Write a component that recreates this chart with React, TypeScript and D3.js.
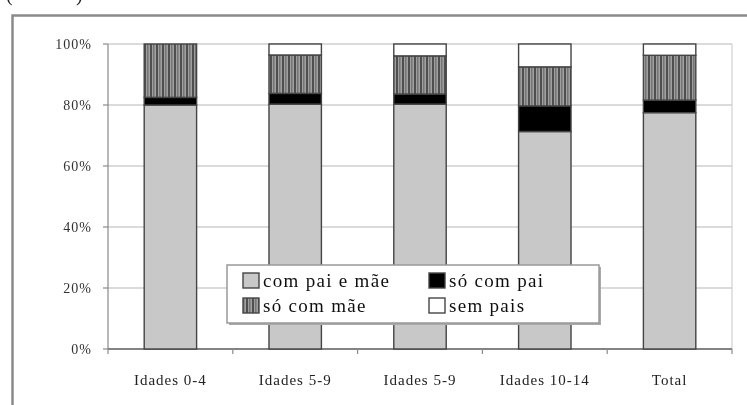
import React from "react";
import * as d3 from "d3";

const categories = ["Idades 0-4", "Idades 5-9", "Idades 5-9", "Idades 10-14", "Total"];
const seriesNames = ["com pai e mãe", "só com pai", "só com mãe", "sem pais"];
const comPaiEMae = [80.0, 80.3, 80.3, 71.3, 77.5];
const soComPai = [2.5, 3.5, 3.3, 8.4, 4.1];
const soComMae = [17.5, 12.6, 12.5, 12.8, 14.7];
const semPais = [0.0, 3.6, 3.9, 7.5, 3.7];
const yTicks = [0, 20, 40, 60, 80, 100];

const W = 747;
const H = 405;
const margin = { left: 108, right: 15, top: 44, bottom: 56 };
const FONT = "'Liberation Serif', 'DejaVu Serif', serif";

const seriesValues = [comPaiEMae, soComPai, soComMae, semPais];
const fills = ["#c8c8c8", "#000000", "url(#stripes)", "#ffffff"];

export default function App() {
  const x = d3
    .scaleBand<number>()
    .domain(d3.range(categories.length))
    .range([margin.left, W - margin.right])
    .paddingInner(0.58)
    .paddingOuter(0.29);
  const y = d3.scaleLinear().domain([0, 100]).range([H - margin.bottom, margin.top]);

  const rows = categories.map((c, i) => {
    const r: Record<string, number> = { i };
    seriesNames.forEach((s, k) => (r[s] = seriesValues[k][i]));
    return r;
  });
  const stacked = d3.stack<Record<string, number>>().keys(seriesNames)(rows);

  const plotL = margin.left;
  const plotR = W - margin.right;
  const step = (plotR - plotL) / categories.length;

  const legend = { x: 227, y: 265, w: 372, h: 58 };
  const legendItems = [
    { k: 0, col: 0, row: 0 },
    { k: 1, col: 1, row: 0 },
    { k: 2, col: 0, row: 1 },
    { k: 3, col: 1, row: 1 },
  ];

  return (
    <svg
      width={W}
      height={H}
      style={{ position: "absolute", left: 0, top: 0, background: "#fff" }}
      fontFamily={FONT}
    >
      <defs>
        <pattern id="stripes" width="6" height="4" patternUnits="userSpaceOnUse">
          <rect width="6" height="4" fill="#a0a0a0" />
          <rect x="0" width="2" height="4" fill="#505050" />
          <rect x="3" width="1.5" height="4" fill="#747474" />
        </pattern>
        <filter id="soft" x="-5%" y="-5%" width="110%" height="110%">
          <feGaussianBlur stdDeviation="0.55" />
        </filter>
      </defs>

      <g filter="url(#soft)">
        {/* heading running off the top edge */}
        <text x={6} y={1} fontSize={20} fill="#222">(</text>
        <text x={76} y={1} fontSize={20} fill="#222">)</text>

        {/* outer frame */}
        <path d={`M12.5,${H} V15.5 H${W}`} fill="none" stroke="#8a8a8a" strokeWidth={2.5} />

        {/* horizontal grid */}
        {yTicks.map((t) => (
          <line key={t} x1={plotL} x2={plotR} y1={y(t)} y2={y(t)} stroke="#b8b8b8" strokeWidth={1.2} />
        ))}
        <line x1={plotR} x2={plotR} y1={y(100)} y2={y(0)} stroke="#c8c8c8" strokeWidth={1} />

        {/* y axis */}
        <line x1={plotL} x2={plotL} y1={y(100)} y2={y(0)} stroke="#8a8a8a" strokeWidth={1.2} />
        {yTicks.map((t) => (
          <g key={t}>
            <line x1={plotL - 5} x2={plotL} y1={y(t)} y2={y(t)} stroke="#8a8a8a" strokeWidth={1.2} />
            <text x={92} y={y(t) + 5} fontSize={14} textAnchor="end" fill="#333" letterSpacing={1}>
              {`${t}%`}
            </text>
          </g>
        ))}

        {/* x axis */}
        <line x1={plotL} x2={plotR} y1={y(0)} y2={y(0)} stroke="#666" strokeWidth={1.4} />
        {d3.range(categories.length + 1).map((i) => (
          <line key={i} x1={plotL + i * step} x2={plotL + i * step} y1={y(0)} y2={y(0) + 5} stroke="#8a8a8a" strokeWidth={1.2} />
        ))}
        {categories.map((c, i) => (
          <text key={i} x={x(i)! + x.bandwidth() / 2} y={385} fontSize={15} textAnchor="middle" fill="#222" letterSpacing={1}>
            {c}
          </text>
        ))}

        {/* stacked bars */}
        {stacked.map((layer, k) =>
          layer.map((d, i) =>
            d[1] - d[0] > 0 ? (
              <rect
                key={`${k}-${i}`}
                x={x(i)!}
                y={y(d[1])}
                width={x.bandwidth()}
                height={y(d[0]) - y(d[1])}
                fill={fills[k]}
                stroke="#444"
                strokeWidth={1.4}
              />
            ) : null
          )
        )}

        {/* legend */}
        <rect x={legend.x + 2} y={legend.y + 2} width={legend.w} height={legend.h} fill="#aaa" />
        <rect x={legend.x} y={legend.y} width={legend.w} height={legend.h} fill="#fff" stroke="#999" strokeWidth={1.5} />
        {legendItems.map(({ k, col, row }) => {
          const lx = legend.x + 16 + col * 186;
          const ly = legend.y + 8 + row * 25;
          return (
            <g key={k}>
              <rect x={lx} y={ly} width={16} height={15} fill={fills[k]} stroke="#444" strokeWidth={1.4} />
              <text x={lx + 20} y={ly + 14} fontSize={19} fill="#111" letterSpacing={1.3}>
                {seriesNames[k]}
              </text>
            </g>
          );
        })}
      </g>
    </svg>
  );
}
